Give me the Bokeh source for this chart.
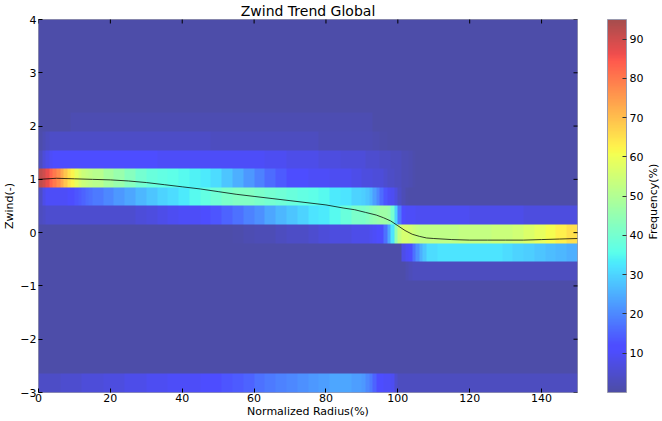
import math
import numpy as np
from bokeh.plotting import figure
from bokeh.layouts import row
from bokeh.models import (LinearColorMapper, ColorBar, FixedTicker, Label, Range1d)
from bokeh.embed import file_html
from bokeh.resources import INLINE

# ---------------- data ----------------
# Radius bins (Normalized Radius %): 1-wide where the picture changes fast, 3-wide elsewhere
radius_edges = ([0, 1, 2, 3, 4, 5, 6, 7, 8, 9, 10, 11, 12, 13, 14, 15] +
                [18, 21, 24, 27, 30, 33, 36, 39, 42, 45, 48, 51, 54, 57, 60, 63, 66, 69, 72,
                 75, 78, 81, 84, 87, 90] +
                [91, 92, 93, 94, 95, 96, 97, 98, 99, 100, 101, 102, 103, 104, 105, 106, 107, 108] +
                [111, 114, 117, 120, 123, 126, 129, 132, 135, 138, 141, 144, 147, 150])
zwind_edges = [-3.0, -2.65, -2.3, -1.95, -1.6, -1.25, -0.9, -0.55, -0.2, 0.15, 0.5,
               0.85, 1.2, 1.55, 1.9, 2.25, 2.6, 2.95, 3.3, 3.65, 4.0]
background_freq = 0.5

# Frequency (%) per radius bin, for the Zwind bins that differ from the background
freq_band_00 = ([4, 4, 4, 4, 4, 4, 5, 5, 5, 5, 5, 5, 6, 6, 6] +
                [6, 7, 7, 8, 8, 9, 9, 10, 10, 10, 11, 12, 13, 14, 15, 17, 18, 19, 20, 21,
                 22, 23, 24, 24, 23] +
                [22, 20, 18, 15, 12, 11, 10, 10, 9, 5, 3, 3, 3, 3, 3, 3, 3, 3] +
                [3, 3, 3, 3, 3, 3, 3, 3, 3, 3, 3, 3, 3, 3])
freq_band_06 = ([0.5, 0.5, 0.5, 0.5, 0.5, 0.5, 0.5, 0.5, 0.5, 0.5, 0.5, 0.5, 0.5, 0.5, 0.5] +
                [0.5, 0.5, 0.5, 0.5, 0.5, 0.5, 0.5, 0.5, 0.5, 0.5, 0.5, 0.5, 0.5, 0.5, 0.5,
                 0.5, 0.5, 0.5, 0.5, 0.5, 0.5, 0.5, 0.5, 0.5, 0.5] +
                [0.5, 0.5, 0.5, 0.5, 0.5, 0.5, 0.5, 0.5, 0.5, 0.5, 0.5, 0.5, 1.5, 2.5, 3, 3, 3, 3] +
                [3, 3, 3, 3, 3, 3, 3, 3, 3, 3, 3, 3, 3, 3])
freq_band_07 = ([0.5, 0.5, 0.5, 0.5, 0.5, 0.5, 0.5, 0.5, 0.5, 0.5, 0.5, 0.5, 0.5, 0.5, 0.5] +
                [0.5, 0.5, 0.5, 0.5, 0.5, 0.5, 0.5, 0.5, 0.5, 0.5, 0.5, 0.5, 0.5, 0.5, 0.5,
                 0.5, 0.5, 0.5, 0.5, 0.5, 0.5, 0.5, 0.5, 0.5, 0.5] +
                [0.5, 0.5, 0.5, 0.5, 0.5, 0.5, 0.5, 0.5, 0.5, 0.5, 0.5, 8, 10, 12, 17, 21, 25, 28] +
                [31, 32, 32, 32, 32, 32, 32, 31, 30, 29, 28, 27, 26, 25])
freq_band_08 = ([0.5, 0.5, 0.5, 0.5, 0.5, 0.5, 0.5, 0.5, 0.5, 0.5, 0.5, 0.5, 0.5, 0.5, 0.5] +
                [0.5, 0.5, 0.5, 0.5, 0.5, 0.5, 0.5, 0.5, 0.5, 0.5, 0.5, 0.5, 0.5, 1, 1.5,
                 2, 2, 3, 4, 4, 5, 6, 7, 7, 8] +
                [8, 8, 9, 10, 11, 12, 17, 24, 32, 45, 53, 56, 56, 55, 54, 53, 52, 52] +
                [52, 52, 52, 53, 53, 53, 54, 54, 55, 57, 59, 61, 63, 65])
freq_band_09 = ([3, 4, 5, 5, 5, 5, 5, 5, 5, 5, 5, 5, 5, 5, 5] +
                [5, 5, 5, 5, 6, 7, 8, 9, 10, 10, 11, 13, 15, 17, 19, 21, 24, 26, 28, 30,
                 32, 33, 35, 38, 41] +
                [41, 42, 44, 45, 46, 47, 47, 46, 40, 30, 18, 12, 10, 10, 10, 9, 9, 9] +
                [9, 9, 9, 9, 8, 8, 8, 8, 8, 7, 7, 7, 7, 7])
freq_band_10 = ([4, 8, 10, 10, 10, 10, 10, 10, 11, 12, 13, 14, 15, 16, 17] +
                [18, 20, 22, 24, 26, 28, 30, 31, 33, 35, 37, 39, 41, 42, 42, 41, 40, 39, 38, 37,
                 36, 35, 33, 32, 30] +
                [29, 28, 26, 23, 20, 16, 13, 10, 9, 7, 4, 2, 1, 0.5, 0.5, 0.5, 0.5, 0.5] +
                [0.5, 0.5, 0.5, 0.5, 0.5, 0.5, 0.5, 0.5, 0.5, 0.5, 0.5, 0.5, 0.5, 0.5])
freq_band_11 = ([92, 90, 87, 83, 80, 77, 73, 69, 65, 62, 59, 56, 54, 53, 52] +
                [51, 48, 46, 43, 40, 38, 37, 36, 35, 34, 33, 31, 28, 25, 22, 19, 16, 14, 12, 11,
                 10, 10, 9, 9, 8] +
                [7, 7, 7, 6, 6, 6, 5, 4, 4, 3, 3, 2, 2, 1.5, 1, 0.5, 0.5, 0.5] +
                [0.5, 0.5, 0.5, 0.5, 0.5, 0.5, 0.5, 0.5, 0.5, 0.5, 0.5, 0.5, 0.5, 0.5])
freq_band_12 = ([3, 6, 8, 10, 11, 11, 11, 11, 11, 11, 11, 11, 11, 11, 11] +
                [11, 11, 11, 11, 11, 11, 10, 10, 10, 10, 10, 10, 10, 10, 10, 10, 9, 9, 8, 8,
                 8, 7, 7, 6, 6] +
                [6, 5, 5, 5, 5, 4, 4, 4, 3, 3, 3, 2, 2, 1.5, 1, 0.5, 0.5, 0.5] +
                [0.5, 0.5, 0.5, 0.5, 0.5, 0.5, 0.5, 0.5, 0.5, 0.5, 0.5, 0.5, 0.5, 0.5])
freq_band_13 = ([1, 2, 3, 4, 4, 4, 4, 4, 4, 4, 4, 4, 4, 4, 4] +
                [4, 4, 4, 4, 4, 4, 4, 4, 4, 4, 4, 3, 3, 3, 3, 3, 3, 3, 3, 3,
                 3, 2, 2, 2, 2] +
                [2, 2, 2, 1.5, 1.5, 1, 1, 0.5, 0.5, 0.5, 0.5, 0.5, 0.5, 0.5, 0.5, 0.5, 0.5, 0.5] +
                [0.5, 0.5, 0.5, 0.5, 0.5, 0.5, 0.5, 0.5, 0.5, 0.5, 0.5, 0.5, 0.5, 0.5])
freq_band_14 = ([0.5, 0.5, 0.5, 0.5, 0.5, 0.5, 0.5, 0.5, 0.5, 1.5, 1.5, 1.5, 1.5, 1.5, 1.5] +
                [1.5, 1.5, 1.5, 1.5, 1.5, 1.5, 1.5, 1.5, 1.5, 1.5, 1.5, 1.5, 1.5, 1.5, 1.5,
                 1.5, 1.5, 1.5, 1.5, 1.5, 1.5, 1.5, 1.5, 1.5, 1.5] +
                [1.5, 1.5, 1.5, 0.5, 0.5, 0.5, 0.5, 0.5, 0.5, 0.5, 0.5, 0.5, 0.5, 0.5, 0.5, 0.5, 0.5, 0.5] +
                [0.5, 0.5, 0.5, 0.5, 0.5, 0.5, 0.5, 0.5, 0.5, 0.5, 0.5, 0.5, 0.5, 0.5])

band_rows = {0: freq_band_00, 6: freq_band_06, 7: freq_band_07, 8: freq_band_08,
             9: freq_band_09, 10: freq_band_10, 11: freq_band_11, 12: freq_band_12,
             13: freq_band_13, 14: freq_band_14}

trend_x = [0, 5, 10, 15, 20, 25, 30, 35, 40, 45, 50, 55, 60, 65, 70, 75, 80, 85, 88, 91,
           94, 96, 98, 100, 102, 104, 106, 108, 110, 115, 120, 125, 130, 135, 140, 145, 150]
trend_y = [1.00, 1.02, 1.01, 1.00, 0.99, 0.97, 0.94, 0.90, 0.86, 0.82, 0.77, 0.72, 0.68, 0.64,
           0.60, 0.56, 0.52, 0.46, 0.43, 0.38, 0.33, 0.28, 0.22, 0.13, 0.04, -0.03, -0.07,
           -0.10, -0.11, -0.13, -0.14, -0.14, -0.14, -0.14, -0.13, -0.12, -0.11]

x_ticks = [0, 20, 40, 60, 80, 100, 120, 140]
y_ticks = [-3, -2, -1, 0, 1, 2, 3, 4]
cbar_ticks = [10, 20, 30, 40, 50, 60, 70, 80, 90]
freq_low, freq_high = 0, 95

# ---------------- colormap (jet with alpha 0.7 over white) ----------------
def jet_palette(n=256, alpha=0.7):
    t = np.linspace(0, 1, n)
    r = np.interp(t, [0, 0.35, 0.66, 0.89, 1], [0, 0, 1, 1, 0.5])
    g = np.interp(t, [0, 0.125, 0.375, 0.64, 0.91, 1], [0, 0, 1, 1, 0, 0])
    b = np.interp(t, [0, 0.11, 0.34, 0.65, 1], [0.5, 1, 1, 0, 0])
    out = []
    for rr, gg, bb in zip(r, g, b):
        c = [int(round(255 * (alpha * v + (1 - alpha)))) for v in (rr, gg, bb)]
        out.append("#%02x%02x%02x" % tuple(c))
    return out

palette = jet_palette()
mapper = LinearColorMapper(palette=palette, low=freq_low, high=freq_high)

# ---------------- frequency grid -> image ----------------
n_cols = len(radius_edges) - 1
widths = np.diff(radius_edges).astype(int)      # each bin spans `width` image pixels
grid = np.array([band_rows.get(k, [background_freq] * n_cols)
                 for k in range(len(zwind_edges) - 1)], dtype=float)
grid_img = np.repeat(grid, widths, axis=1)      # 1 image column per radius unit
SUB = 8                                         # each Zwind bin drawn as 8 identical rows
grid_img = np.repeat(grid_img, SUB, axis=0)

FONT = "DejaVu Sans"
TOTAL_W, H = 660, 420
LABEL_W = 14
x0, x1 = radius_edges[0], radius_edges[-1]
y0, y1 = zwind_edges[0], zwind_edges[-1]
p = figure(width=TOTAL_W - LABEL_W, height=H, x_range=Range1d(x0, x1), y_range=Range1d(y0, y1),
           output_backend="svg", toolbar_location=None, title="Zwind Trend Global",
           min_border_left=38, min_border_right=40, min_border_top=19, min_border_bottom=24)
p.grid.visible = False
p.outline_line_color = "#9a9aae"
p.outline_line_width = 1
p.title.align = "center"
p.title.text_font = FONT
p.title.text_font_style = "normal"
p.title.text_font_size = "14px"
p.title.text_color = "black"
p.title.standoff = 1

p.image(image=[grid_img], x=x0, y=y0, dw=x1 - x0, dh=y1 - y0, color_mapper=mapper)
p.line(trend_x, trend_y, line_color="black", line_alpha=0.75, line_width=1)

# inward ticks on top and right edges (matplotlib style)
p.scatter(x=x_ticks, y=[y1] * len(x_ticks), marker="dash", angle=math.pi / 2, size=8,
          line_color="black", line_width=1)
p.scatter(x=[x1] * len(y_ticks), y=y_ticks, marker="dash", size=8,
          line_color="black", line_width=1)

for ax in (p.xaxis[0], p.yaxis[0]):
    ax.axis_line_color = None
    ax.major_tick_in = 4
    ax.major_tick_out = 0
    ax.minor_tick_in = 0
    ax.minor_tick_out = 0
    ax.major_tick_line_color = "black"
    ax.major_label_text_font = FONT
    ax.major_label_text_font_size = "11px"
    ax.major_label_text_color = "black"
    ax.axis_label_text_font = FONT
    ax.axis_label_text_font_size = "11px"
    ax.axis_label_text_font_style = "normal"
    ax.axis_label_text_color = "black"
    ax.major_label_standoff = 2
    ax.axis_label_standoff = 1
p.xaxis.major_label_standoff = 1
p.xaxis.axis_label_standoff = 0

p.xaxis.ticker = FixedTicker(ticks=x_ticks)
p.yaxis.ticker = FixedTicker(ticks=y_ticks)
p.xaxis.axis_label = "Normalized Radius(%)"
p.yaxis.axis_label = "Zwind(-)"
p.yaxis.major_label_overrides = {-3: "\u22123", -2: "\u22122", -1: "\u22121"}

cbar = ColorBar(color_mapper=mapper, ticker=FixedTicker(ticks=cbar_ticks), width=19,
                padding=0, margin=0, location=(30, 0),
                major_label_text_font=FONT, major_label_text_font_size="11px",
                major_label_text_color="black", label_standoff=3,
                major_tick_in=4, major_tick_out=0, major_tick_line_color="#333333",
                minor_tick_line_color=None, bar_line_color="#9a9aae",
                border_line_color=None, background_fill_color=None)
p.add_layout(cbar, "right")

# narrow strip holding the colour bar's title, read bottom-to-top
q = figure(width=LABEL_W, height=H, x_range=Range1d(0, 1), y_range=Range1d(0, H),
           output_backend="svg", toolbar_location=None, min_border=0)
q.axis.visible = False
q.grid.visible = False
q.outline_line_color = None
q.add_layout(Label(x=0.5, y=H - 205, text="Frequency(%)", angle=90, angle_units="deg",
                   text_align="center", text_baseline="middle", text_font=FONT,
                   text_font_size="11px", text_color="black"))

layout = row(p, q)
open("out.html", "w").write(file_html(layout, INLINE))
